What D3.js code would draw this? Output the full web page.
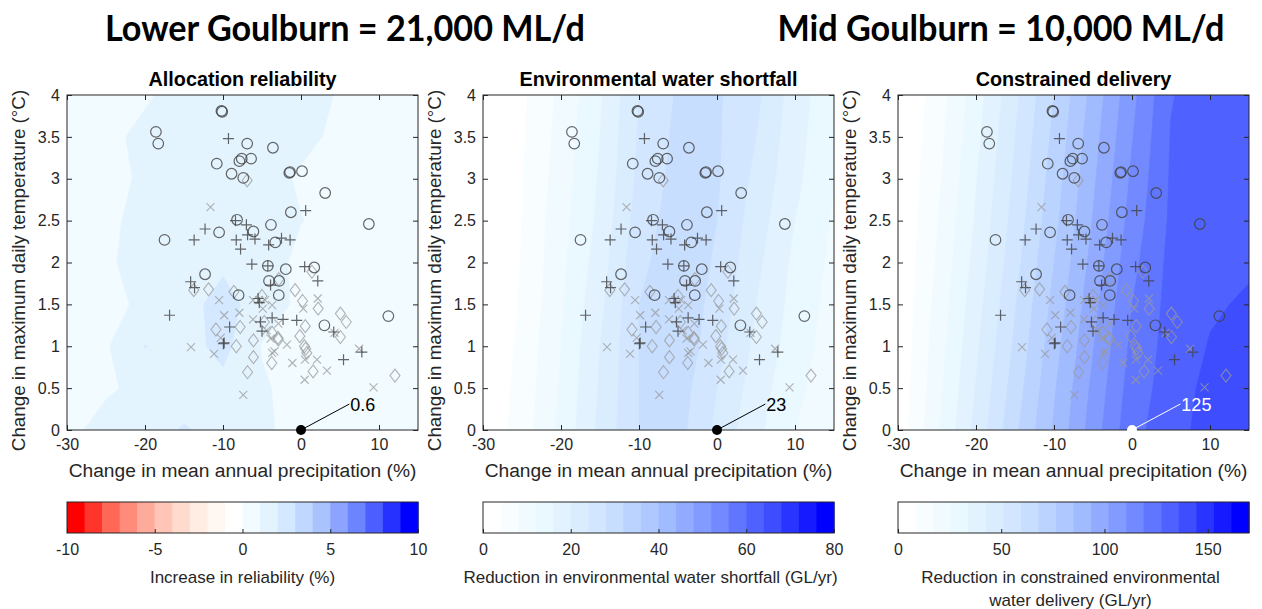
<!DOCTYPE html>
<html>
<head>
<meta charset="utf-8">
<script src="https://cdn.jsdelivr.net/npm/d3@7"></script>
<style>
  body { margin: 0; background: #fff; }
  svg { display: block; }
  text { font-family: "Liberation Sans", Arial, Helvetica, sans-serif; }
</style>
</head>
<body>
<svg id="chart" width="1262" height="609"></svg>
<script>
// ---- Climate perturbation grid (rows: temperature, columns: precipitation) ----
const precipSteps = [-30, -25, -20, -15, -10, -5, 0, 5, 10, 15];
const tempSteps = [0, 0.5, 1, 1.5, 2, 2.5, 3, 3.5, 4];

// Increase in allocation reliability (%)
const reliabilityGrid = [
  [0.7, 1.4, 1.5, 2.1, 1.6, 1.2, 0.6, 0.4, 0.3, 0.3],
  [0.6, 0.85, 1.3, 1.4, 1.7, 1.1, 0.7, 0.5, 0.4, 0.3],
  [0.6, 0.9, 2.03, 1.6, 2.3, 0.95, 0.6, 0.5, 0.4, 0.3],
  [0.6, 0.7, 1.2, 1.6, 2.4, 1.5, 0.8, 0.6, 0.45, 0.35],
  [0.6, 0.85, 1.4, 1.5, 1.8, 1.6, 0.7, 0.55, 0.45, 0.35],
  [0.6, 0.8, 1.3, 1.5, 1.7, 1.6, 1.03, 0.7, 0.5, 0.4],
  [0.6, 0.7, 1.15, 1.5, 1.7, 1.5, 0.85, 0.6, 0.5, 0.4],
  [0.6, 0.8, 1.2, 1.5, 1.7, 1.6, 1.3, 0.75, 0.55, 0.45],
  [0.5, 0.7, 0.9, 1.3, 1.6, 1.6, 1.5, 0.9, 0.6, 0.5]
];

// Reduction in environmental water shortfall (GL/yr)
const shortfallGrid = [
  [0.5, 6, 13, 21, 28, 29.5, 23, 17, 12, 9],
  [0.3, 5.5, 12.5, 20.5, 28, 30, 24, 18, 13, 9.5],
  [0.2, 5, 12, 20, 28, 31, 25.5, 19, 14, 10],
  [0, 4.5, 11.5, 19, 28, 31, 26.5, 20, 14.5, 10.5],
  [0, 4.2, 11, 18, 27, 30.5, 27.5, 21, 15, 11],
  [0, 4, 10.5, 17, 26, 30, 28, 22, 16, 11.5],
  [0, 3.8, 10, 16.5, 25, 29.5, 28.5, 23, 17, 12],
  [0, 3.5, 9.5, 16, 24.5, 29, 28.5, 24, 17.5, 12.5],
  [0, 3.2, 9, 15.5, 24, 28.5, 28.5, 25, 18, 13]
];

// Reduction in constrained environmental water delivery (GL/yr)
const deliveryGrid = [
  [3, 24, 45, 66, 86, 106, 125, 132, 140, 144],
  [2, 22.5, 43, 63.5, 84, 104, 123, 131.5, 138.5, 142],
  [1.5, 21, 41, 61, 81.5, 101.5, 121, 131, 136.5, 140],
  [1, 19.5, 39, 59, 79, 99, 119, 130.5, 135, 137],
  [0.8, 18, 37, 56.5, 76.5, 96.5, 116.5, 130, 134, 135],
  [0.5, 16.5, 35, 54.5, 74, 94, 114, 129, 133, 134.5],
  [0.3, 15, 33.5, 52.5, 72, 92, 112, 128.5, 132.5, 134.2],
  [0.1, 13.5, 31.5, 51, 70, 90, 110, 128, 132, 134],
  [0, 12, 30, 49, 68, 88, 108, 127, 132, 134]
];

// ---- Climate model projections: [precipitation change %, temperature change °C] ----
const circleModels = [
  [-10.2, 3.81], [-10.1, 3.80], [-18.6, 3.56], [-18.3, 3.42], [-6.9, 3.42], [-3.6, 3.37],
  [-10.8, 3.18], [-7.9, 3.21], [-7.6, 3.24], [-6.4, 3.24], [-8.9, 3.06], [-7.4, 3.01],
  [-1.5, 3.07], [-1.4, 3.08], [0.13, 3.09], [3.1, 2.83], [-1.3, 2.60], [8.7, 2.46],
  [-8.2, 2.51], [-6.1, 2.37], [-3.85, 2.45], [-10.5, 2.36], [-17.5, 2.27], [-3.3, 2.24],
  [-4.25, 1.96], [-1.95, 1.92], [1.7, 1.94], [-12.3, 1.86], [-4.1, 1.78], [-2.8, 1.78],
  [-8.0, 1.61], [-2.85, 1.61], [11.2, 1.36], [3.0, 1.25]
];
const plusModels = [
  [-9.3, 3.48], [0.6, 2.62], [-12.3, 2.40], [-13.7, 2.27], [-8.4, 2.50], [-7.0, 2.45],
  [-8.3, 2.27], [-6.85, 2.33], [-5.9, 2.28], [-7.75, 2.16], [-4.15, 2.21], [-2.5, 2.29],
  [-1.4, 2.27], [-6.3, 1.98], [-4.25, 1.96], [0.47, 1.95], [2.15, 1.78], [-14.15, 1.77],
  [-13.65, 1.70], [-3.9, 1.73], [-5.5, 1.57], [-5.35, 1.52], [-16.85, 1.37], [-9.15, 1.23],
  [-5.2, 1.29], [-5.0, 1.18], [-3.7, 1.34], [-2.3, 1.32], [-0.55, 1.31], [4.2, 1.17],
  [-9.95, 1.03], [-9.85, 1.04], [5.45, 0.84], [7.8, 0.93]
];
const crossModels = [
  [-11.6, 2.66], [-10.5, 1.55], [-9.85, 1.37], [-7.9, 1.40], [-6.15, 1.55], [-4.9, 1.45],
  [-6.15, 1.32], [-3.7, 1.49], [-14.1, 0.99], [-11.15, 0.91], [-7.4, 0.42], [-3.9, 1.09],
  [-3.4, 0.94], [-1.8, 1.02], [-1.1, 0.80], [0.47, 0.60], [0.5, 0.84], [2.05, 0.84],
  [3.33, 0.71], [2.15, 1.57], [7.45, 0.97], [9.3, 0.51], [-5.4, 1.55], [-4.4, 1.19],
  [-4.6, 1.55], [0.3, 1.45], [-3.7, 0.92], [4.3, 1.16], [-10.3, 1.10], [-2.9, 1.27]
];
const diamondModels = [
  [-6.9, 2.98], [-11.85, 1.68], [-13.75, 1.67], [-8.6, 1.65], [-10.9, 1.20], [-7.8, 1.23],
  [-8.3, 1.0], [-6.1, 1.07], [-6.1, 0.87], [-6.85, 0.69], [-3.75, 0.80], [-2.95, 1.10],
  [-0.75, 1.67], [0.2, 1.54], [0.55, 1.24], [-0.15, 1.12], [0.45, 1.0], [0.75, 0.92],
  [1.55, 0.70], [2.2, 1.45], [5.05, 1.39], [5.8, 1.29], [5.05, 1.11], [12.05, 0.65],
  [1.4, 1.89], [-2.85, 1.80], [-4.7, 1.29], [-5.0, 1.60], [-3.7, 1.16], [-2.9, 1.08],
  [0.6, 0.97]
];

// ---- Axis ticks and labels ----
const xTicks = [-30, -20, -10, 0, 10];
const yTicks = [0, 0.5, 1, 1.5, 2, 2.5, 3, 3.5, 4];
const xDomain = [-30, 15];
const yDomain = [0, 4];
const headlines = ["Lower Goulburn = 21,000 ML/d", "Mid Goulburn = 10,000 ML/d"];
const panelTitles = ["Allocation reliability", "Environmental water shortfall", "Constrained delivery"];
const xLabel = "Change in mean annual precipitation (%)";
const yLabel = "Change in maximum daily temperature (°C)";
const reliabilityLevels = d3.range(21).map(i => -10 + i);
const shortfallLevels = d3.range(21).map(i => i * 4);
const deliveryLevels = d3.range(21).map(i => i * 8.5);
const reliabilityTicks = [-10, -5, 0, 5, 10];
const shortfallTicks = [0, 20, 40, 60, 80];
const deliveryTicks = [0, 50, 100, 150];
const colorbarLabels = [
  ["Increase in reliability (%)"],
  ["Reduction in environmental water shortfall (GL/yr)"],
  ["Reduction in constrained environmental", "water delivery (GL/yr)"]
];

// ---- Colour maps ----
const blueRamp = d3.piecewise(d3.interpolateRgb,
  ["#ffffff", "#e9f8ff", "#cfe5ff", "#a9c3ff", "#7890ff", "#4152ff", "#0000ff"]);
const redRamp = d3.piecewise(d3.interpolateRgb,
  ["#ffffff", "#fff0e6", "#ffd0c2", "#ffa090", "#ff6050", "#ff0000"]);
const divergingBands = d3.range(20).map(i => i < 10 ? redRamp((9 - i) / 9) : blueRamp((i - 9) / 10));
const blueBands = d3.range(20).map(i => blueRamp(i / 19));

const panels = [
  { grid: reliabilityGrid, levels: reliabilityLevels, colors: divergingBands, cbTicks: reliabilityTicks, labelColor: "#000", cbShift: 0 },
  { grid: shortfallGrid, levels: shortfallLevels, colors: blueBands, cbTicks: shortfallTicks, labelColor: "#000", cbShift: -8 },
  { grid: deliveryGrid, levels: deliveryLevels, colors: blueBands, cbTicks: deliveryTicks, labelColor: "#fff", cbShift: -3 }
];

// ---- Layout ----
const svg = d3.select("#chart");
const W = 351, H = 335, TOP = 95;
const lefts = [67, 483, 898];
const axisColor = "#262626";
const CB_TOP = 502, CB_H = 31;
const tickFont = "16px";

svg.selectAll("text.headline").data(headlines).join("text")
  .attr("class", "headline")
  .attr("x", (d, i) => [345, 1001][i])
  .attr("y", 41)
  .attr("text-anchor", "middle")
  .attr("textLength", (d, i) => [480, 447][i])
  .attr("lengthAdjust", "spacingAndGlyphs")
  .style("font-family", "Lato, 'Open Sans', sans-serif")
  .style("font-weight", 700)
  .style("font-size", "36px")
  .attr("fill", "#000")
  .text(d => d);

const nx = precipSteps.length, ny = tempSteps.length;
const gridX = d3.scaleLinear().domain([0, nx - 1]).range([precipSteps[0], precipSteps[nx - 1]]);
const gridY = d3.scaleLinear().domain([0, ny - 1]).range([tempSteps[0], tempSteps[ny - 1]]);

panels.forEach((p, i) => {
  const left = lefts[i];
  const x = d3.scaleLinear().domain(xDomain).range([0, W]);
  const y = d3.scaleLinear().domain(yDomain).range([H, 0]);
  const g = svg.append("g").attr("transform", `translate(${left},${TOP})`);

  g.append("clipPath").attr("id", "plotclip" + i)
    .append("rect").attr("width", W).attr("height", H);

  // filled contours
  const proj = d3.geoTransform({
    point(px, py) { this.stream.point(x(gridX(px - 0.5)), y(gridY(py - 0.5))); }
  });
  const path = d3.geoPath(proj);
  const contours = d3.contours().size([nx, ny]).smooth(true)
    .thresholds(p.levels.slice(0, -1))(p.grid.flat());
  g.append("g").attr("clip-path", `url(#plotclip${i})`)
    .selectAll("path").data(contours).join("path")
    .attr("d", path)
    .attr("fill", (d, k) => p.colors[k])
    .attr("stroke", (d, k) => p.colors[k])
    .attr("stroke-width", 0.5);

  // model projections
  const marks = g.append("g").attr("fill", "none");
  marks.selectAll("path.diamond").data(diamondModels).join("path")
    .attr("class", "diamond")
    .attr("d", d => { const cx = x(d[0]), cy = y(d[1]); return `M${cx},${cy - 6.5}L${cx + 5},${cy}L${cx},${cy + 6.5}L${cx - 5},${cy}Z`; })
    .attr("stroke", "#9a9a9a").attr("stroke-opacity", 0.75).attr("stroke-width", 1.1);
  marks.selectAll("path.cross").data(crossModels).join("path")
    .attr("class", "cross")
    .attr("d", d => { const cx = x(d[0]), cy = y(d[1]), s = 4; return `M${cx - s},${cy - s}L${cx + s},${cy + s}M${cx - s},${cy + s}L${cx + s},${cy - s}`; })
    .attr("stroke", "#9a9a9a").attr("stroke-opacity", 0.75).attr("stroke-width", 1.1);
  marks.selectAll("path.plus").data(plusModels).join("path")
    .attr("class", "plus")
    .attr("d", d => { const cx = x(d[0]), cy = y(d[1]), s = 5.5; return `M${cx - s},${cy}L${cx + s},${cy}M${cx},${cy - s}L${cx},${cy + s}`; })
    .attr("stroke", "#404040").attr("stroke-opacity", 0.8).attr("stroke-width", 1.2);
  marks.selectAll("circle").data(circleModels).join("circle")
    .attr("cx", d => x(d[0])).attr("cy", d => y(d[1])).attr("r", 5.3)
    .attr("stroke", "#404040").attr("stroke-opacity", 0.8).attr("stroke-width", 1.2);

  // axes with inward ticks on all four sides
  const tick = 5;
  g.append("g").attr("transform", `translate(0,${H})`)
    .call(d3.axisBottom(x).tickValues(xTicks).tickSize(-tick).tickPadding(9).tickFormat(d => String(d)));
  g.append("g")
    .call(d3.axisLeft(y).tickValues(yTicks).tickSize(-tick).tickPadding(7).tickFormat(d => String(d)));
  g.append("g").call(d3.axisTop(x).tickValues(xTicks).tickSize(-tick).tickFormat(""));
  g.append("g").attr("transform", `translate(${W},0)`)
    .call(d3.axisRight(y).tickValues(yTicks).tickSize(-tick).tickFormat(""));
  g.selectAll(".domain").remove();
  g.selectAll(".tick line").attr("stroke", axisColor);
  g.selectAll(".tick text").attr("fill", axisColor).style("font-size", tickFont)
    .style("font-family", "'Liberation Sans', Arial, sans-serif");
  g.append("rect").attr("width", W).attr("height", H)
    .attr("fill", "none").attr("stroke", axisColor).attr("stroke-width", 1);

  // value at the historical baseline (0 %, 0 °C)
  const baseCol = precipSteps.indexOf(0), baseRow = tempSteps.indexOf(0);
  const baseVal = p.grid[baseRow][baseCol];
  g.append("line")
    .attr("x1", x(0)).attr("y1", y(0))
    .attr("x2", x(6.2)).attr("y2", y(0.31))
    .attr("stroke", p.labelColor).attr("stroke-width", 1);
  g.append("circle").attr("cx", x(0)).attr("cy", y(0)).attr("r", 5)
    .attr("fill", p.labelColor);
  g.append("text").attr("x", x(6.2) + 1).attr("y", y(0.31) + 7)
    .attr("fill", p.labelColor).style("font-size", "18px")
    .text(String(baseVal));

  // titles and axis labels
  g.append("text").attr("x", W / 2).attr("y", -9).attr("text-anchor", "middle")
    .style("font-size", "19.8px").style("font-weight", "bold").attr("fill", "#000")
    .text(panelTitles[i]);
  g.append("text").attr("x", W / 2).attr("y", H + 47).attr("text-anchor", "middle")
    .style("font-size", "19.2px").attr("fill", axisColor).text(xLabel);
  g.append("text").attr("transform", `translate(-42,${H / 2 + 8}) rotate(-90)`)
    .attr("text-anchor", "middle").style("font-size", "18.8px").attr("fill", axisColor)
    .text(yLabel);

  // colour bar
  const cbx = d3.scaleLinear().domain([p.levels[0], p.levels[p.levels.length - 1]]).range([0, W]);
  const cb = svg.append("g").attr("transform", `translate(${left},${CB_TOP})`);
  cb.selectAll("rect.band").data(d3.range(p.levels.length - 1)).join("rect")
    .attr("class", "band")
    .attr("x", k => cbx(p.levels[k]))
    .attr("width", k => cbx(p.levels[k + 1]) - cbx(p.levels[k]) + 0.6)
    .attr("height", CB_H)
    .attr("fill", k => p.colors[k]);
  cb.append("g").attr("transform", `translate(0,${CB_H})`)
    .call(d3.axisBottom(cbx).tickValues(p.cbTicks).tickSize(-4).tickPadding(11).tickFormat(d => String(d)))
    .call(a => a.select(".domain").remove())
    .call(a => a.selectAll("line").attr("stroke", axisColor))
    .call(a => a.selectAll("text").attr("fill", axisColor).style("font-size", tickFont)
      .style("font-family", "'Liberation Sans', Arial, sans-serif"));
  cb.append("rect").attr("width", W).attr("height", CB_H)
    .attr("fill", "none").attr("stroke", axisColor).attr("stroke-width", 1);
  cb.selectAll("text.cblabel").data(colorbarLabels[i]).join("text")
    .attr("class", "cblabel")
    .attr("x", W / 2 + p.cbShift).attr("y", (d, k) => 81 + k * 23)
    .attr("text-anchor", "middle").style("font-size", "17px").attr("fill", axisColor)
    .text(d => d);
});
</script>
</body>
</html>
